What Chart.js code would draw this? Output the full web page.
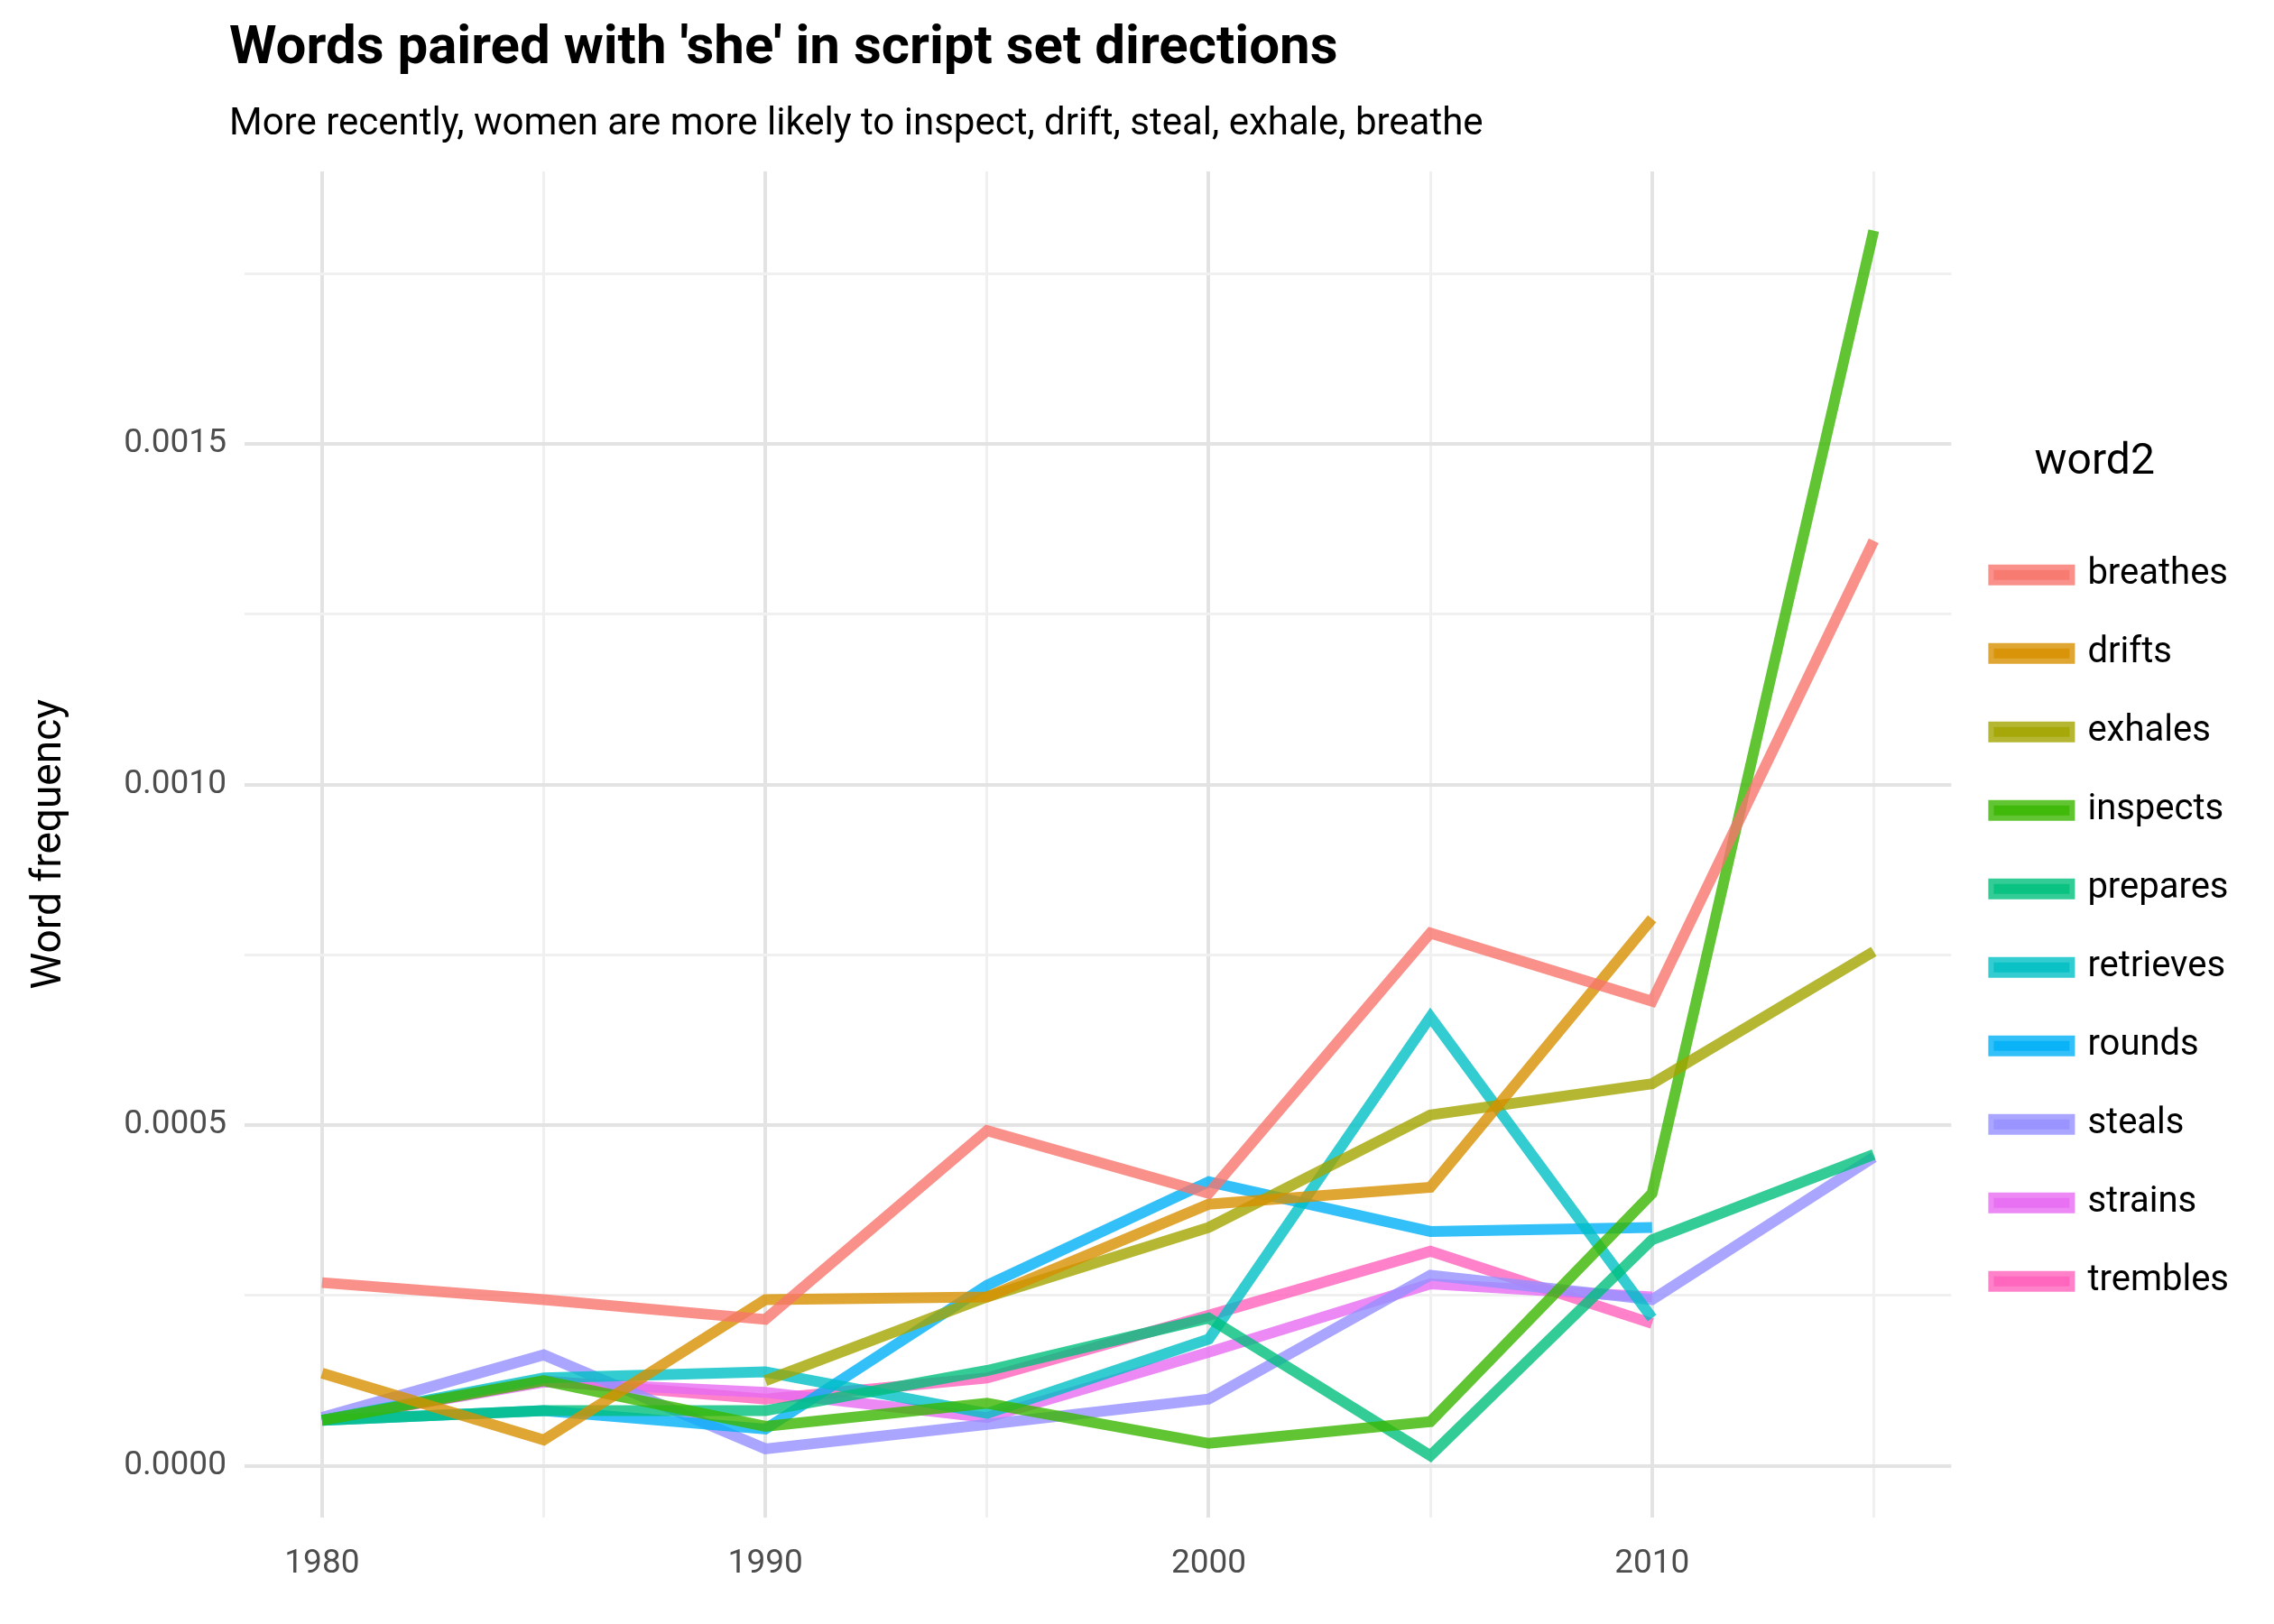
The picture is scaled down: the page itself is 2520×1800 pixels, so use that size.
<!DOCTYPE html>
<html>
<head>
<meta charset="utf-8">
<script src="https://cdn.jsdelivr.net/npm/chart.js@4.4.0/dist/chart.umd.min.js"></script>
<style>
  html, body { margin: 0; padding: 0; background: #fff; }
  #wrap { width: 2520px; height: 1800px; position: relative; font-family: Roboto, "Noto Sans", sans-serif; }
  #title { position: absolute; left: 254px; top: 14px; font-size: 60px; font-weight: bold; color: #000; }
  #sub { position: absolute; left: 254px; top: 110px; font-size: 42px; color: #000; }
  canvas { position: absolute; left: 0; top: 0; }
</style>
</head>
<body>
<div id="wrap">
  <canvas id="c" width="2520" height="1800"></canvas>
  <div id="title">Words paired with 'she' in script set directions</div>
  <div id="sub">More recently, women are more likely to inspect, drift, steal, exhale,  breathe</div>
</div>
<script>
const years = [1980, 1985, 1990, 1995, 2000, 2005, 2010, 2015];
const words = ['breathes', 'drifts', 'exhales', 'inspects', 'prepares', 'retrieves', 'rounds', 'steals', 'strains', 'trembles'];
const colors = ['#F8766D', '#D89000', '#A3A500', '#39B600', '#00BF7D', '#00BFC4', '#00B0F6', '#9590FF', '#E76BF3', '#FF62BC'];

const breathes  = [0.000269, 0.000244, 0.000215, 0.000492, 0.000400, 0.000782, 0.000682, 0.001358];
const drifts    = [0.000136, 0.000038, 0.000244, 0.000248, 0.000384, 0.000409, 0.000803, null];
const exhales   = [null, null, 0.000125, 0.000248, 0.000350, 0.000515, 0.000561, 0.000755];
const inspects  = [0.000067, 0.000125, 0.000058, 0.000092, 0.000033, 0.000065, 0.000400, 0.001813];
const prepares  = [0.000067, 0.000081, 0.000081, 0.000140, 0.000217, 0.000015, 0.000332, 0.000457];
const retrieves = [0.000067, 0.000129, 0.000138, 0.000077, 0.000186, 0.000659, 0.000217, null];
const rounds    = [0.000067, 0.000081, 0.000054, 0.000265, 0.000417, 0.000344, 0.000350, null];
const steals    = [0.000071, 0.000163, 0.000025, 0.000061, 0.000098, 0.000280, 0.000244, 0.000453];
const strains   = [0.000067, 0.000123, 0.000108, 0.000071, 0.000167, 0.000267, 0.000248, null];
const trembles  = [0.000067, 0.000125, 0.000098, 0.000129, 0.000221, 0.000315, 0.000209, null];
const series = [breathes, drifts, exhales, inspects, prepares, retrieves, rounds, steals, strains, trembles];

function alpha(hex, a) {
  const n = parseInt(hex.slice(1), 16);
  return `rgba(${n >> 16},${(n >> 8) & 255},${n & 255},${a})`;
}

const datasets = words.map((w, i) => ({
  label: w,
  data: years.map((y, j) => ({ x: y, y: series[i][j] })).filter(p => p.y !== null),
  borderColor: alpha(colors[i], 0.8),
  backgroundColor: alpha(colors[i], 0.8),
  borderWidth: 12,
  pointRadius: 0,
  tension: 0,
  fill: false,
}));

Chart.defaults.font.family = 'Roboto, "Noto Sans", sans-serif';
Chart.defaults.color = '#4d4d4d';

const major = v => Math.round(v * 1e5) % 50 === 0;

new Chart(document.getElementById('c').getContext('2d'), {
  type: 'line',
  data: { datasets },
  options: {
    responsive: false,
    animation: false,
    layout: { padding: { left: 24, right: 40, top: 190, bottom: 14 } },
    scales: {
      x: {
        type: 'linear',
        min: 1978.25,
        max: 2016.75,
        border: { display: false },
        grid: {
          color: ctx => (ctx.tick && ctx.tick.value % 10 === 0) ? '#e3e3e3' : '#f0f0f0',
          lineWidth: ctx => (ctx.tick && ctx.tick.value % 10 === 0) ? 4 : 3,
          drawTicks: false,
        },
        ticks: {
          padding: 30,
          font: { size: 37 },
          color: '#4d4d4d',
          callback: v => (v % 10 === 0 && v <= 2010) ? String(v) : '',
        },
        afterBuildTicks: axis => {
          axis.ticks = [1980, 1985, 1990, 1995, 2000, 2005, 2010, 2015].map(v => ({ value: v }));
        },
      },
      y: {
        min: -0.0000753,
        max: 0.0019,
        border: { display: false },
        title: { display: true, text: 'Word frequency', font: { size: 46 }, color: '#000', padding: { bottom: 34 } },
        grid: {
          color: ctx => (ctx.tick && major(ctx.tick.value)) ? '#e3e3e3' : '#f0f0f0',
          lineWidth: ctx => (ctx.tick && major(ctx.tick.value)) ? 4 : 3,
          drawTicks: false,
        },
        afterBuildTicks: axis => {
          axis.ticks = [0, 0.00025, 0.0005, 0.00075, 0.001, 0.00125, 0.0015, 0.00175].map(v => ({ value: v }));
        },
        ticks: {
          padding: 20,
          font: { size: 37 },
          color: '#4d4d4d',
          callback: v => major(v) ? v.toFixed(4) : '',
        },
      },
    },
    plugins: {
      legend: {
        position: 'right',
        align: 'center',
        title: { display: true, text: 'word2', color: '#000', font: { size: 48 }, padding: { top: 0, bottom: 24 } },
        labels: {
          boxWidth: 84,
          boxHeight: 11,
          padding: 47,
          color: '#000',
          font: { size: 40 },
        },
      },
      tooltip: { enabled: false },
    },
  },
});
</script>
</body>
</html>
